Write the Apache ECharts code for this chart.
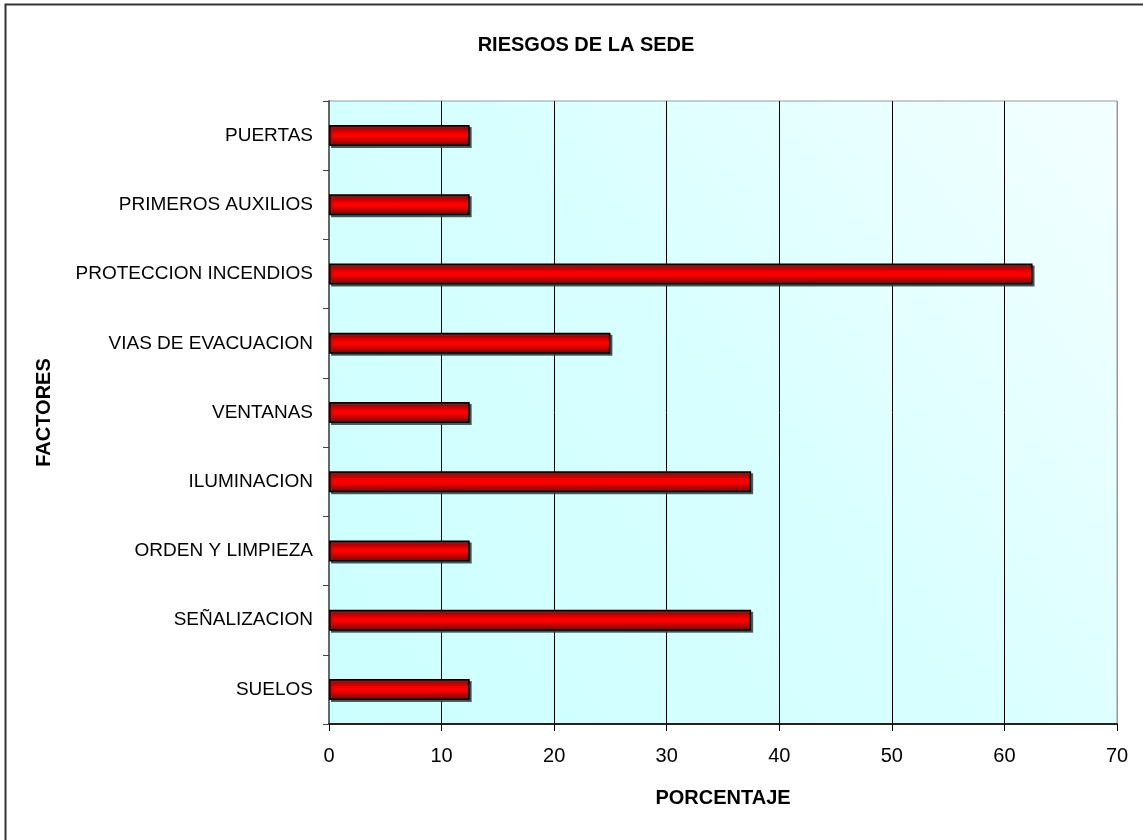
<!DOCTYPE html>
<html>
<head>
<meta charset="utf-8">
<script src="https://cdn.jsdelivr.net/npm/echarts@6/dist/echarts.min.js"></script>
<style>
html,body{margin:0;padding:0;background:#fff;}
#chart{width:1143px;height:840px;}
</style>
</head>
<body>
<div id="chart"></div>
<script>
const categories = ['SUELOS','SEÑALIZACION','ORDEN Y LIMPIEZA','ILUMINACION','VENTANAS','VIAS DE EVACUACION','PROTECCION INCENDIOS','PRIMEROS AUXILIOS','PUERTAS'];
const values = [12.5, 37.5, 12.5, 37.5, 12.5, 25, 62.5, 12.5, 12.5];
const xTicks = [0,10,20,30,40,50,60,70];

const FONT = '"Liberation Sans", Arial, sans-serif';
const chart = echarts.init(document.getElementById('chart'));
chart.setOption({
  animation: false,
  backgroundColor: '#ffffff',
  title: {
    text: 'RIESGOS DE LA SEDE',
    left: 581, top: 30, textAlign: 'center',
    textStyle: {fontFamily: FONT, fontSize: 20, fontWeight: 'bold', color: '#000'}
  },
  graphic: [{
    type: 'rect', z: 100, silent: true,
    shape: {x: 5.5, y: 4.5, width: 1300, height: 1000},
    style: {fill: 'none', stroke: '#333', lineWidth: 2}
  }],
  grid: {
    left: 329, right: 26, top: 101, bottom: 116,
    show: true,
    borderColor: '#999', borderWidth: 1,
    backgroundColor: new echarts.graphic.LinearGradient(0, 1, 1, 0, [
      {offset: 0, color: '#ccffff'},
      {offset: 0.5, color: '#d8ffff'},
      {offset: 1, color: '#f4ffff'}
    ])
  },
  xAxis: {
    type: 'value', min: 0, max: 70, interval: 10,
    name: 'PORCENTAJE', nameLocation: 'middle', nameGap: 64,
    nameTextStyle: {fontFamily: FONT, fontSize: 20, fontWeight: 'bold', color: '#000'},
    axisLine: {show: true, lineStyle: {color: '#222', width: 2}},
    axisTick: {show: true, length: 7, lineStyle: {color: '#000'}},
    axisLabel: {
      margin: 22, fontFamily: FONT, fontSize: 20, color: '#000',
      formatter: v => xTicks.indexOf(v) >= 0 ? String(v) : ''
    },
    splitLine: {show: true, lineStyle: {color: ['#000','#000','#000','#000','#000','#000','#000','#999'], width: 1}}
  },
  yAxis: {
    type: 'category', data: categories,
    name: 'FACTORES', nameLocation: 'middle', nameGap: 275, nameRotate: 90,
    nameTextStyle: {fontFamily: FONT, fontSize: 20, fontWeight: 'bold', color: '#000'},
    axisLine: {show: true, lineStyle: {color: '#666', width: 2}},
    axisTick: {show: true, length: 6, lineStyle: {color: '#444'}},
    axisLabel: {margin: 16, fontFamily: FONT, fontSize: 19, color: '#000'},
    splitLine: {show: false}
  },
  series: [{
    type: 'bar',
    data: values,
    barWidth: 21,
    itemStyle: {
      color: new echarts.graphic.LinearGradient(0, 0, 0, 1, [
        {offset: 0, color: '#7a0000'},
        {offset: 0.45, color: '#ff0000'},
        {offset: 0.55, color: '#ff0000'},
        {offset: 1, color: '#7a0000'}
      ]),
      borderColor: '#000', borderWidth: 1.5,
      shadowColor: 'rgba(60,60,60,0.8)', shadowOffsetX: 2, shadowOffsetY: 2, shadowBlur: 0
    }
  }]
});
</script>
</body>
</html>
